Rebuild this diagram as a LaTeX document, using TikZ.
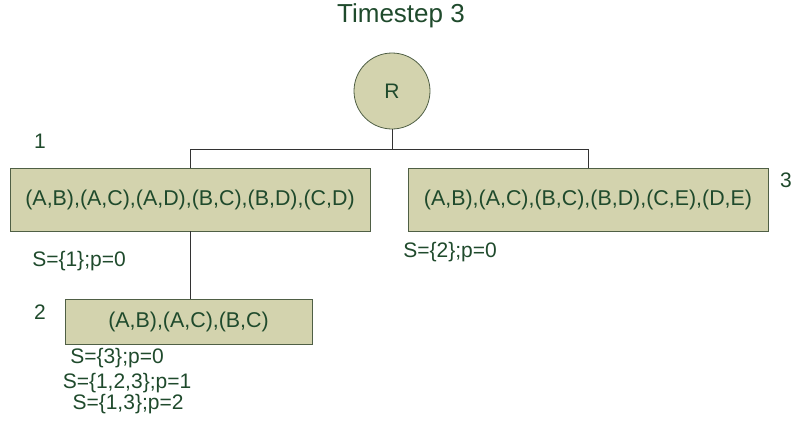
\documentclass[tikz,border=0pt]{standalone}
\usepackage{fontspec}
\setmainfont{Liberation Sans}
\definecolor{txtgreen}{HTML}{1F4A2C}
\definecolor{boxfill}{HTML}{D3D3AE}
\definecolor{boxline}{HTML}{4F5F45}
\tikzset{
  setbox/.style={draw=boxline, fill=boxfill, line width=0.8pt, inner sep=0pt, text=txtgreen, font=\fontsize{21.4}{21.4}\selectfont},
  rootnode/.style={circle, draw=boxline, fill=boxfill, line width=0.8pt, minimum size=76pt, inner sep=0pt, text=txtgreen, font=\fontsize{21}{21}\selectfont},
  lbl/.style={text=txtgreen, inner sep=0pt, font=\fontsize{21}{24}\selectfont},
  conn/.style={draw=black!80, line width=0.8pt}
}
\begin{document}
\begin{tikzpicture}[x=1pt,y=-1pt]
\useasboundingbox (0,0) rectangle (792,421);
\node[lbl, font=\fontsize{26}{26}\selectfont] (title) at (401,16) {Timestep 3};
\node[rootnode] (R) at (392,91) {R};
\node[setbox, minimum width=360pt, minimum height=63pt] (b1) at (190,199.5) {(A,B),(A,C),(A,D),(B,C),(B,D),(C,D)};
\node[setbox, minimum width=360pt, minimum height=63pt] (b3) at (588,199.5) {(A,B),(A,C),(B,C),(B,D),(C,E),(D,E)};
\node[setbox, minimum width=247pt, minimum height=45pt] (b2) at (188.5,321.5) {(A,B),(A,C),(B,C)};
\coordinate (j) at (392,149);
\draw[conn] (R.south) -- (j) -| (b1.north);
\draw[conn] (j) -| (b3.north);
\draw[conn] (b1.south) -- (b1.south |- b2.north);
\node[lbl] (n1) at (40,141) {1};
\node[lbl, anchor=west] (n3) at (780,180) {3};
\node[lbl] (n2) at (40,312) {2};
\node[lbl] (s1) at (79,261) {S=\{1\};p=0};
\node[lbl] (s3) at (450,252) {S=\{2\};p=0};
\node[lbl] (s2a) at (117,358) {S=\{3\};p=0};
\node[lbl] (s2b) at (127,383) {S=\{1,2,3\};p=1};
\node[lbl] (s2c) at (128,404) {S=\{1,3\};p=2};
\end{tikzpicture}
\end{document}
